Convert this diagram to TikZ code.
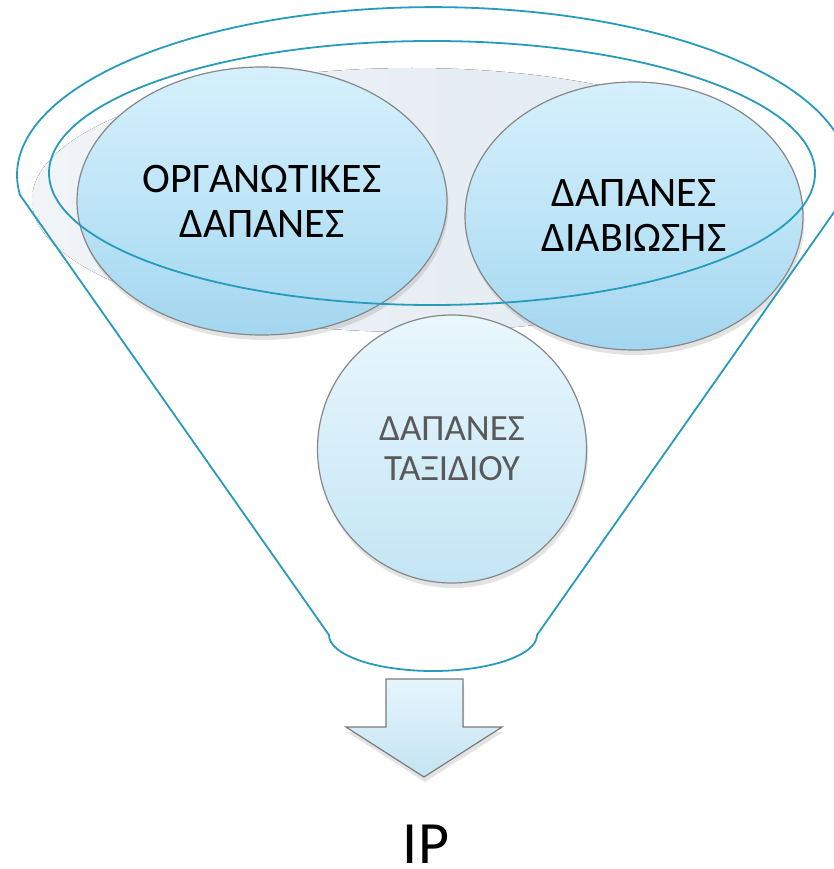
\documentclass[tikz,border=0pt]{standalone}
\usepackage{fontspec}
\setmainfont{Carlito}
\usetikzlibrary{shapes.geometric,shadows}

\definecolor{funnelc}{RGB}{38,155,188}
\definecolor{rimc}{RGB}{135,135,135}
\definecolor{bTop}{RGB}{214,240,252}
\definecolor{bMid}{RGB}{190,229,247}
\definecolor{bBot}{RGB}{163,214,239}
\definecolor{cTop}{RGB}{233,247,253}
\definecolor{cMid}{RGB}{214,238,249}
\definecolor{cBot}{RGB}{195,229,244}
\definecolor{greyL}{RGB}{240,244,247}
\definecolor{greyR}{RGB}{224,233,240}
\definecolor{aTop}{RGB}{230,245,252}
\definecolor{aBot}{RGB}{196,228,243}
\definecolor{txtgrey}{RGB}{89,89,89}

\tikzset{
  bubble/.style={ellipse, draw=rimc, line width=1.2pt, inner sep=0pt, align=center,
    drop shadow={shadow xshift=1.5pt, shadow yshift=-5pt, opacity=0.22}},
  bigbubble/.style={bubble, top color=bTop, bottom color=bBot, middle color=bMid,
    font=\fontsize{42}{45}\selectfont},
  smallbubble/.style={bubble, top color=cTop, bottom color=cBot, middle color=cMid,
    font=\fontsize{37}{40}\selectfont, text=txtgrey},
  funnelline/.style={draw=funnelc, line width=1.8pt},
}

\begin{document}
\begin{tikzpicture}[x=1pt,y=-1pt]
\useasboundingbox (0,0) rectangle (834,869);
\clip (0,0) rectangle (834,869);

% pale backdrop of the funnel mouth
\fill[left color=greyL, right color=greyR] (412,200) ellipse [x radius=380pt, y radius=132pt];

% bubbles
\node[bigbubble, minimum width=370pt, minimum height=268pt] (org) at (262,201) {ΟΡΓΑΝΩΤΙΚΕΣ\\ΔΑΠΑΝΕΣ};
\node[bigbubble, minimum width=338pt, minimum height=268pt] (diab) at (634,216) {ΔΑΠΑΝΕΣ\\ΔΙΑΒΙΩΣΗΣ};
\node[smallbubble, minimum width=269pt, minimum height=268pt] (taxid) at (452,449) {ΔΑΠΑΝΕΣ\\ΤΑΞΙΔΙΟΥ};

% inner rim of the funnel
\draw[funnelline] (432,173) ellipse [x radius=383pt, y radius=132pt];

% outer funnel outline
\draw[funnelline, line join=round]
  (20,195) arc[start angle=186.8, end angle=-6.8, x radius=416pt, y radius=168pt]
  -- (537,635)
  arc[start angle=0, end angle=-180, x radius=104pt, y radius=36pt]
  -- cycle;

% down arrow
\draw[draw=rimc!110, line width=1.2pt, top color=aTop, bottom color=aBot, line join=miter,
      drop shadow={shadow xshift=1pt, shadow yshift=-5pt, opacity=0.22}]
  (386,679) -- (463,679) -- (463,727) -- (502,727) -- (424,777) -- (346,727) -- (386,727) -- cycle;

\node[font=\fontsize{60}{60}\selectfont, anchor=base, inner sep=0pt] (ip) at (426,863) {IP};
\end{tikzpicture}
\end{document}
